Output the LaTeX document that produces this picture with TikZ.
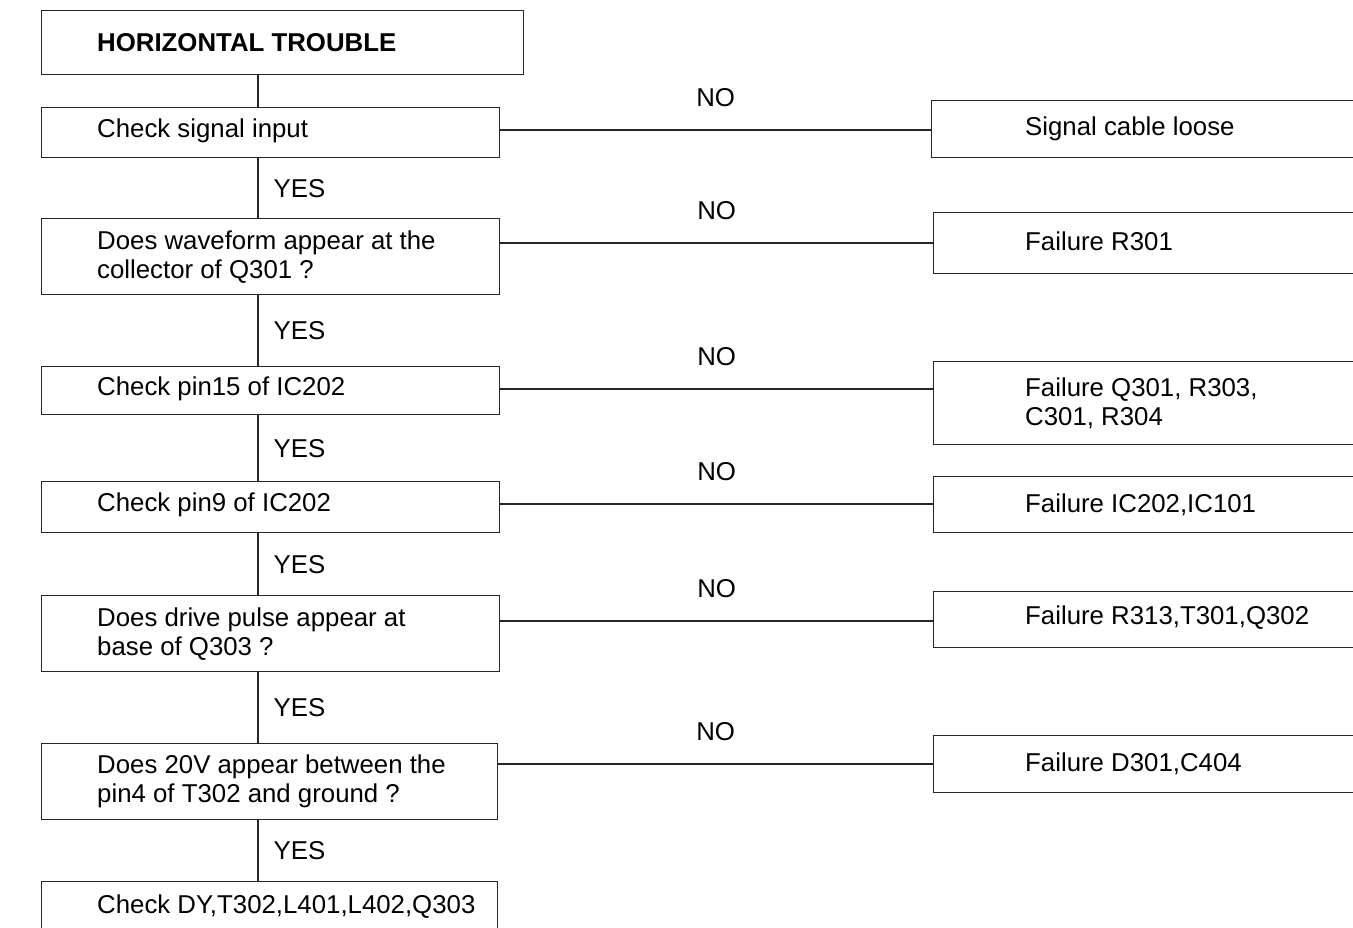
\documentclass[tikz,border=0pt]{standalone}
\usepackage{fontspec}
\setmainfont{Liberation Sans}
\newcommand{\qfont}{\fontsize{25.8}{29}\selectfont}
\tikzset{
	qbox/.style={draw=black!85, line width=1.4pt, anchor=north west, minimum width=458},
	fbox/.style={draw=black!85, line width=1.4pt, anchor=north west, minimum width=440},
	qtext/.style={anchor=west, xshift=56, align=left, inner sep=0, font=\qfont},
	ftext/.style={anchor=west, xshift=92, align=left, inner sep=0, font=\qfont},
	wire/.style={draw=black!85, line width=1.4pt},
	yes/.style={midway, anchor=west, xshift=15, inner sep=0, font=\qfont},
	no/.style={midway, yshift=32, inner sep=0, font=\qfont}
}
\begin{document}
\begin{tikzpicture}[x=1pt,y=-1pt]
	\clip (0,0) rectangle (1353,928);
	%LEFT COLUMN
	\node[qbox, minimum width=482, minimum height=64, label={[qtext, font=\qfont\bfseries]west:HORIZONTAL TROUBLE}] (title) at (41,10) {};
	\node[qbox, minimum height=50, label={[qtext, yshift=2]west:Check signal input}] (b1) at (41,107) {};
	\node[qbox, minimum height=76, label={[qtext]west:{Does waveform appear at the\\collector of Q301 ?}}] (b2) at (41,218) {};
	\node[qbox, minimum height=48, label={[qtext, yshift=2]west:Check pin15 of IC202}] (b3) at (41,366) {};
	\node[qbox, minimum height=51, label={[qtext, yshift=2]west:Check pin9 of IC202}] (b4) at (41,481) {};
	\node[qbox, minimum height=76, label={[qtext]west:{Does drive pulse appear at\\base of Q303 ?}}] (b5) at (41,595) {};
	\node[qbox, minimum width=456, minimum height=76, label={[qtext]west:{Does 20V appear between the\\pin4 of T302 and ground ?}}] (b6) at (41,743) {};
	\node[qbox, minimum width=456, minimum height=50, label={[qtext]west:{Check DY,T302,L401,L402,Q303}}] (b7) at (41,881) {};
	%RIGHT COLUMN
	\node[fbox, minimum height=57, label={[ftext, xshift=2]west:Signal cable loose}] (r1) at (931,100) {};
	\node[fbox, minimum height=61, label={[ftext, yshift=2]west:Failure R301}] (r2) at (933,212) {};
	\node[fbox, minimum height=83, label={[ftext]west:{Failure Q301, R303,\\C301, R304}}] (r3) at (933,361) {};
	\node[fbox, minimum height=56, label={[ftext]west:{Failure IC202,IC101}}] (r4) at (933,476) {};
	\node[fbox, minimum height=56, label={[ftext, yshift=2]west:{Failure R313,T301,Q302}}] (r5) at (933,591) {};
	\node[fbox, minimum height=57, label={[ftext]west:{Failure D301,C404}}] (r6) at (933,735) {};
	%YES
	\coordinate (spine) at (258,0);
	\draw[wire] (title.south -| spine) -- (b1.north -| spine);
	\draw[wire] (b1.south -| spine) -- node[yes]{YES} (b2.north -| spine);
	\draw[wire] (b2.south -| spine) -- node[yes]{YES} (b3.north -| spine);
	\draw[wire] (b3.south -| spine) -- node[yes]{YES} (b4.north -| spine);
	\draw[wire] (b4.south -| spine) -- node[yes]{YES} (b5.north -| spine);
	\draw[wire] (b5.south -| spine) -- node[yes]{YES} (b6.north -| spine);
	\draw[wire] (b6.south -| spine) -- node[yes]{YES} (b7.north -| spine);
	%NO
	\coordinate (n1) at (0,130);
	\coordinate (n2) at (0,243);
	\coordinate (n3) at (0,389);
	\coordinate (n4) at (0,504);
	\coordinate (n5) at (0,621);
	\coordinate (n6) at (0,764);
	\draw[wire] (b1.east |- n1) -- node[no]{NO} (r1.west |- n1);
	\draw[wire] (b2.east |- n2) -- node[no]{NO} (r2.west |- n2);
	\draw[wire] (b3.east |- n3) -- node[no]{NO} (r3.west |- n3);
	\draw[wire] (b4.east |- n4) -- node[no]{NO} (r4.west |- n4);
	\draw[wire] (b5.east |- n5) -- node[no]{NO} (r5.west |- n5);
	\draw[wire] (b6.east |- n6) -- node[no]{NO} (r6.west |- n6);
\end{tikzpicture}
\end{document}
